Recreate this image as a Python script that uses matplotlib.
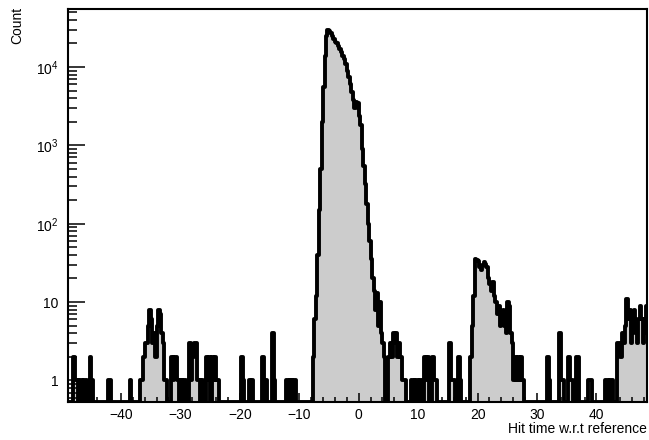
#!/usr/bin/env python3
# Histogram of hit times w.r.t. reference (log y), ROOT-like look.
import numpy as np
import matplotlib
matplotlib.use("Agg")
import matplotlib.pyplot as plt
from matplotlib.ticker import MultipleLocator, LogLocator, NullFormatter, FuncFormatter

plt.rcParams["font.family"] = ["Liberation Sans", "DejaVu Sans"]
plt.rcParams["mathtext.default"] = "regular"

BIN_W = 0.25
X_LO, X_HI = -49.0, 49.0
YMIN, YMAX = 0.53, 5.5e4

# main prompt peak, bins start at MAIN_START
MAIN_START = -7.75
MAIN_COUNTS = [2, 6, 12, 40, 150, 500, 2000, 5500, 14000, 25000,
               29500, 29000, 27000, 25000, 23000, 21000, 20000, 18500,
               17000, 15500, 14000, 12500, 11000, 9000, 7500, 6000, 4800,
               3800, 3000, 3600, 3500, 2400, 1800, 900, 550, 320, 180, 100,
               60, 35, 20, 14, 8, 13, 5, 10, 4, 3, 2]

# small bump just after the main peak
BUMP6_START = 5.0
BUMP6_COUNTS = [2, 3, 2, 4, 3, 4, 2, 3, 2, 1, 1]

# secondary peak around +20
SIDE_START = 18.75
SIDE_COUNTS = [2, 5, 12, 35, 34, 33, 28, 26, 30, 32, 31, 28, 20, 17, 14,
               18, 12, 10, 7, 9, 5, 6, 8, 5, 4, 10, 9, 4, 3, 1, 2, 1, 2,
               1, 2, 1]

# bump around -34
LEFT_START = -36.25
LEFT_COUNTS = [2, 3, 3, 5, 8, 6, 3, 4, 2, 5, 8, 7, 4, 3, 1, 1]

# bump at the right edge
RIGHT_START = 43.5
RIGHT_COUNTS = [3, 3, 2, 4, 3, 5, 11, 6, 8, 3, 5, 8, 4, 3, 6, 9, 6, 3,
                6, 9, 4, 7]

# isolated noise hits (bin lower edge, count)
NOISE_X = [-48.0, -47.75, -47.5, -47.0, -46.75, -46.25, -46.0, -45.25,
           -45.0, -42.25, -42.0, -38.5, -36.75, -36.5,
           -31.5, -31.25, -31.0, -30.75, -30.5, -30.0, -29.5, -29.25,
           -28.5, -28.25, -28.0, -27.75, -27.5, -27.25, -27.0, -26.5,
           -25.75, -25.5, -25.25, -24.75, -24.5, -24.25, -24.0, -23.75,
           -19.75, -19.5, -18.5, -18.0, -16.25, -15.75, -14.5, -14.25,
           -12.25, -12.0, -11.5, -11.0, -10.75,
           7.75, 8.75, 9.0, 9.5, 9.75, 10.25, 10.5, 11.0, 11.25, 11.5,
           12.25, 12.5, 12.75, 13.0, 15.25, 15.5, 15.75, 16.0, 16.75, 17.0,
           31.75, 32.0, 33.75, 34.0, 34.25, 35.25, 35.5, 35.75, 36.5, 36.75,
           38.5, 38.75, 39.0, 41.5, 41.75, 42.25, 42.5]
NOISE_N = [2, 1, 1, 1, 1, 1, 1, 2,
           1, 1, 1, 1, 1, 1,
           2, 1, 2, 2, 1, 1, 1, 1,
           3, 1, 2, 3, 3, 1, 1, 1,
           2, 1, 2, 2, 1, 2, 1, 1,
           2, 1, 1, 1, 2, 1, 4, 1,
           1, 1, 1, 1, 1,
           1, 1, 1, 1, 1, 1, 1, 2, 1, 2,
           2, 2, 1, 1, 3, 1, 1, 1, 2, 1,
           2, 1, 4, 1, 1, 2, 1, 1, 2, 2,
           1, 1, 1, 1, 1, 1, 1]


def build_hist():
    edges = np.arange(X_LO, X_HI + BIN_W / 2, BIN_W)
    counts = np.zeros(len(edges) - 1)

    def idx(x):
        return int(round((x - X_LO) / BIN_W))

    for start, vals in [(MAIN_START, MAIN_COUNTS), (BUMP6_START, BUMP6_COUNTS),
                        (SIDE_START, SIDE_COUNTS), (LEFT_START, LEFT_COUNTS),
                        (RIGHT_START, RIGHT_COUNTS)]:
        i0 = idx(start)
        counts[i0:i0 + len(vals)] = vals
    for x, n in zip(NOISE_X, NOISE_N):
        counts[idx(x)] = n
    return edges, counts


def fmt_log(v, pos):
    if v == 1:
        return "1"
    if v == 10:
        return "10"
    return r"$10^{%d}$" % int(round(np.log10(v)))


def main():
    edges, counts = build_hist()
    shown = np.where(counts > 0, counts, YMIN)

    fig = plt.figure(figsize=(6.49, 4.40), dpi=100)
    ax = fig.add_axes([68 / 649, 38 / 440, 579 / 649, 393 / 440])
    ax.set_yscale("log")

    ax.stairs(shown, edges, baseline=YMIN, fill=True, color="#cccccc", lw=0)
    outline = ax.stairs(shown, edges, baseline=None, color="black", lw=2.8)
    outline.set_joinstyle("round")

    ax.set_xlim(-48.9, 48.5)
    ax.set_ylim(YMIN, YMAX)

    ax.xaxis.set_major_locator(MultipleLocator(10))
    ax.xaxis.set_minor_locator(MultipleLocator(2))
    ax.yaxis.set_major_locator(LogLocator(base=10, numticks=10))
    ax.yaxis.set_minor_locator(LogLocator(base=10, subs=np.arange(2, 10), numticks=20))
    ax.yaxis.set_major_formatter(FuncFormatter(fmt_log))
    ax.yaxis.set_minor_formatter(NullFormatter())

    ax.tick_params(which="both", direction="in", top=False, right=False,
                   labelsize=10, width=1.1, colors="black")
    ax.tick_params(axis="x", which="major", length=6.5, pad=4)
    ax.tick_params(axis="x", which="minor", length=3.6)
    ax.tick_params(axis="y", which="major", length=12, pad=7)
    ax.tick_params(axis="y", which="minor", length=6.5)
    for sp in ax.spines.values():
        sp.set_linewidth(1.5)

    fig.text(647 / 649, 1 - 429 / 440, "Hit time w.r.t reference",
             ha="right", va="center", fontsize=10)
    fig.text(17 / 649, 1 - 7 / 440, "Count", rotation=90,
             ha="center", va="top", fontsize=10)

    fig.savefig("out.png", dpi=100)
    plt.close(fig)


if __name__ == "__main__":
    main()
